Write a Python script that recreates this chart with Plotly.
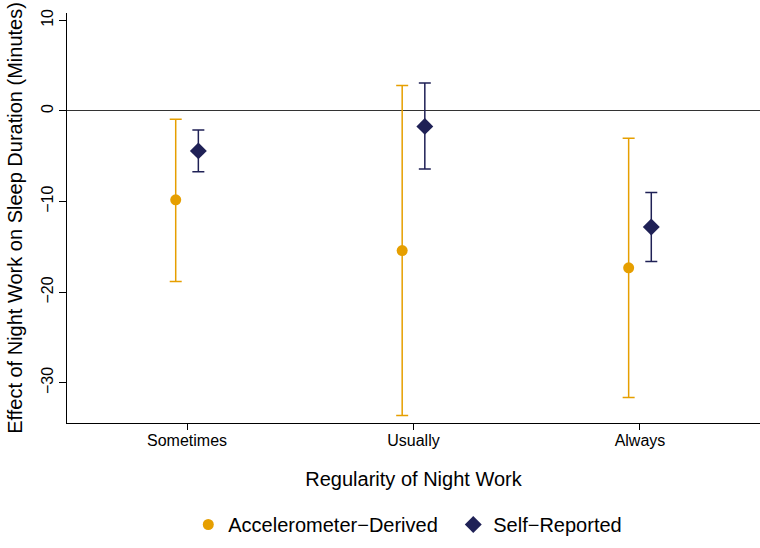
import plotly.graph_objects as go

categories = ["Sometimes", "Usually", "Always"]
accel_est = [-9.8, -15.4, -17.3]
accel_lo = [-18.8, -33.6, -31.6]
accel_hi = [-0.9, 2.8, -3.0]
self_est = [-4.4, -1.7, -12.8]
self_lo = [-6.7, -6.4, -16.6]
self_hi = [-2.1, 3.1, -9.0]

pos = list(range(1, len(categories) + 1))
dodge = 0.05

fig = go.Figure()
fig.add_trace(go.Scatter(
    x=[p - dodge for p in pos], y=accel_est, mode="markers",
    name="Accelerometer\u2212Derived",
    marker=dict(symbol="circle", size=11, color="#E69F00"),
    error_y=dict(type="data", symmetric=False,
                 array=[h - e for h, e in zip(accel_hi, accel_est)],
                 arrayminus=[e - l for e, l in zip(accel_est, accel_lo)],
                 color="#E69F00", thickness=1.5, width=6),
))
fig.add_trace(go.Scatter(
    x=[p + dodge for p in pos], y=self_est, mode="markers",
    name="Self\u2212Reported",
    marker=dict(symbol="diamond", size=13, color="#1F2156"),
    error_y=dict(type="data", symmetric=False,
                 array=[h - e for h, e in zip(self_hi, self_est)],
                 arrayminus=[e - l for e, l in zip(self_est, self_lo)],
                 color="#1F2156", thickness=1.5, width=6),
))

font_family = "Liberation Sans, Arial, sans-serif"
fig.update_layout(
    width=760, height=548,
    margin=dict(l=67, r=0, t=13, b=125, autoexpand=False),
    plot_bgcolor="white", paper_bgcolor="white",
    font=dict(family=font_family, color="black"),
    showlegend=True,
    legend=dict(orientation="h", x=0.175, xanchor="left", y=-0.2, yanchor="top",
                xref="paper", font=dict(size=20), itemwidth=30,
                entrywidth=220, entrywidthmode="pixels",
                traceorder="normal"),
    xaxis=dict(range=[0.47, 3.53], tickvals=pos, ticktext=categories,
               automargin=False,
               showline=True, linecolor="black", linewidth=1,
               ticks="outside", ticklen=6, tickcolor="black",
               ticklabelstandoff=-3,
               tickfont=dict(size=16), showgrid=False, zeroline=False,
               title=dict(text="Regularity of Night Work", font=dict(size=20), standoff=23)),
    yaxis=dict(range=[-34.42, 10.81], tickvals=[-30, -20, -10, 0, 10],
               ticktext=["\u221230", "\u221220", "\u221210", "0", "10"],
               tickangle=-90, automargin=False,
               showline=True, linecolor="black", linewidth=1,
               ticks="outside", ticklen=7, tickcolor="black",
               tickfont=dict(size=16), showgrid=False,
               zeroline=True, zerolinecolor="#333333", zerolinewidth=1,
               title=dict(text="Effect of Night Work on Sleep Duration (Minutes)",
                          font=dict(size=20), standoff=10)),
)

fig.write_html("out.html", config={"displayModeBar": False},
               post_script="document.body.style.margin='0';document.body.style.overflow='hidden';")
